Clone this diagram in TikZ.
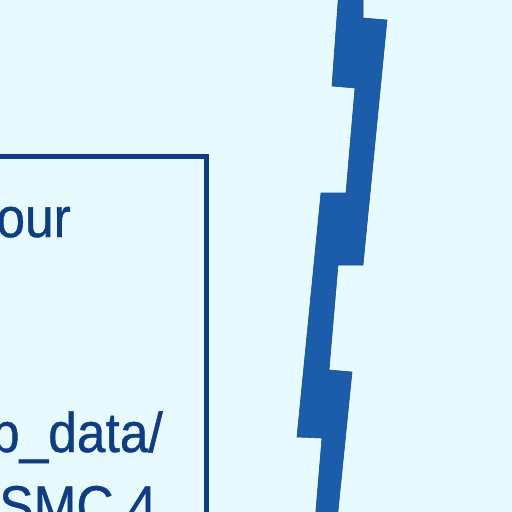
\documentclass[tikz,border=0pt]{standalone}
\usepackage{fontspec}
\setmainfont[FakeBold=0.8]{Liberation Sans}
\usepackage{tikz}
\definecolor{bgcyan}{HTML}{E6FAFF}
\definecolor{boxnavy}{HTML}{103C82}
\definecolor{bandblue}{HTML}{1B5DAA}

\begin{document}
\begin{tikzpicture}[x=1pt,y=-1pt,
  txt/.style={inner sep=0pt,text=boxnavy,xscale=0.92,font=\fontsize{56}{60}\selectfont},
  frame/.style={draw=boxnavy,line width=4.5pt},
  tear/.style={fill=bandblue,draw=bandblue!85!black,line width=0.6pt}]
\fill[bgcyan] (0,0) rectangle (512,512);
\useasboundingbox (0,0) rectangle (512,512);
\clip (0,0) rectangle (512,512);
% box, cut off at left and bottom
\draw[frame] (-20,156.5) -- (206.5,156.5) -- (206.5,540);
\node[txt,anchor=base east] (our) at (71,237) {our};
\node[txt,anchor=base east] (pdata) at (163,452) {p\_data/};
\node[txt,anchor=base west] (smc) at (-1,525) {SMC 4};
% torn band on the right
\draw[tear] (338.5,-4) -- (332,86) -- (355,88) -- (346,193) -- (321,193)
  -- (297,437) -- (322,438) -- (315.5,516) -- (337.5,516) -- (352,372)
  -- (329,370) -- (338,265) -- (363,265) -- (387,20) -- (363,18)
  -- (363,-4) -- cycle;
\end{tikzpicture}
\end{document}
